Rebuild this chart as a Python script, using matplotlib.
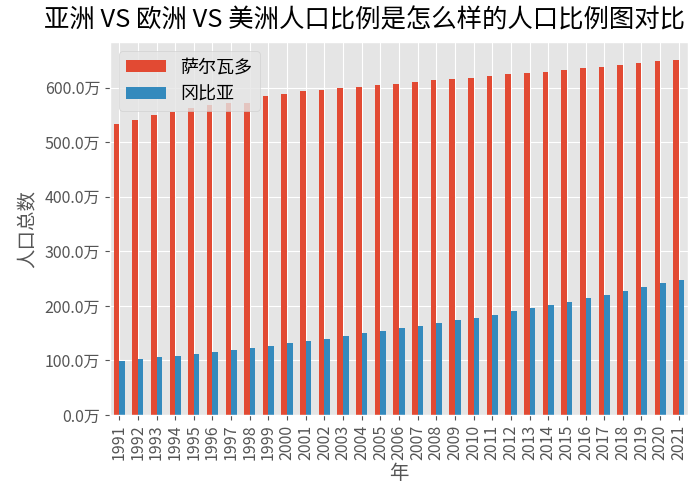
import numpy as np
import matplotlib.pyplot as plt
from matplotlib.ticker import FuncFormatter

plt.style.use('ggplot')
plt.rcParams['font.family'] = ['Noto Sans CJK SC', 'DejaVu Sans']
plt.rcParams['axes.unicode_minus'] = False

years = list(range(1991, 2022))
salvador = [534, 541, 549, 556, 563, 569, 571, 571, 584, 589, 593, 596, 599, 602, 605, 607,
            610, 613, 616, 618, 621, 624, 626, 629, 632, 635, 638, 642, 645, 648, 651]
gambia = [99.6, 102.8, 105.8, 108.8, 112.5, 116.1, 119.8, 123.5, 127.2, 131.6, 135.8, 140,
          145, 150, 154, 159, 163.3, 168.3, 173.8, 178.5, 184, 190.3, 195.8, 201.8, 207.9,
          214.7, 220.7, 227, 234.3, 241, 247.7]

fig = plt.figure(figsize=(7, 5), dpi=100)
ax = fig.add_axes([0.157, 0.17, 0.826, 0.746])

x = np.arange(len(years))
w = 0.3
ax.bar(x - w/2, salvador, w, color='#E24A33', label='萨尔瓦多')
ax.bar(x + w/2, gambia, w, color='#348ABD', label='冈比亚')

ax.set_xlim(-0.5, len(years) - 0.5)
ax.set_ylim(0, max(salvador) * 1.05)
ax.set_xticks(x)
ax.set_xticklabels([str(y) for y in years], rotation=90, fontsize=11.5)
ax.set_yticks(np.arange(0, 601, 100))
ax.yaxis.set_major_formatter(FuncFormatter(lambda v, p: f'{v:.1f}万'))
ax.tick_params(axis='y', labelsize=11.5)
ax.set_xlabel('年', fontsize=14, labelpad=2)
ax.set_ylabel('人口总数', fontsize=14)

ax.legend(loc='upper left', fontsize=13, handlelength=2.2)
fig.suptitle('亚洲 VS 欧洲 VS 美洲人口比例是怎么样的人口比例图对比', fontsize=18.3,
             x=0.52, y=0.985)

plt.savefig('out.png')
